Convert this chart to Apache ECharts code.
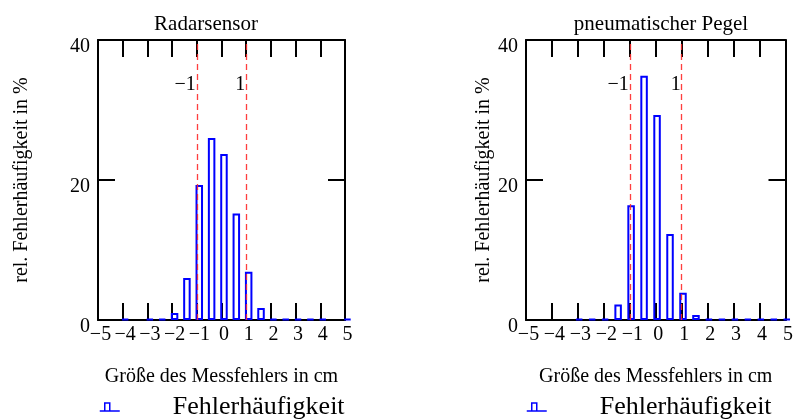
<!DOCTYPE html>
<html><head><meta charset="utf-8">
<script src="https://cdn.jsdelivr.net/npm/echarts@6/dist/echarts.min.js"></script>
<style>html,body{margin:0;padding:0;background:#fff}#c{width:796px;height:419px}</style>
</head><body><div id="c"></div>
<script>
var titles = ['Radarsensor', 'pneumatischer Pegel'];
var xName = 'Größe des Messfehlers in cm';
var yName = 'rel. Fehlerhäufigkeit in %';
var seriesName = 'Fehlerhäufigkeit';
var leftX = [-3.9, -2.9, -2.4, -1.9, -1.4, -0.9, -0.4, 0.1, 0.6, 1.1, 1.6, 2.1, 2.6, 3.1, 3.6, 4.1, 5.1];
var leftY = [0.15, 0.15, 0.15, 1.0, 6.0, 19.3, 26.0, 23.7, 15.2, 6.9, 1.7, 0.15, 0.15, 0.15, 0.15, 0.15, 0.15];
var rightX = [-2.95, -2.45, -1.95, -1.45, -0.95, -0.45, 0.05, 0.55, 1.05, 1.55, 2.05, 2.55, 3.05, 3.55, 4.05, 4.55, 5.05];
var rightY = [0.15, 0.15, 0.15, 2.2, 16.4, 34.9, 29.3, 12.3, 3.9, 0.7, 0.15, 0.15, 0.15, 0.15, 0.15, 0.15, 0.15];
var sigmaLines = [-1, 1];
var sigmaLabels = ['−1', '1'];
var sigmaLabelY = 33.6;
var xMin = -5, xMax = 5, xStep = 1;
var yMin = 0, yMax = 40, yStep = 20;

var FONT = 'Liberation Serif';
var grids = [
  {left: 98, top: 40, width: 247, height: 280},
  {left: 526, top: 40, width: 263, height: 280}
];
var titleCenters = [201, 656];
var yNameGaps = [66, 23];
var legendLefts = [94, 521];

function minus(v){ return v < 0 ? '−' + Math.abs(v) : String(v); }
var axisLine = {show: true, onZero: false, lineStyle: {color: '#000', width: 2}};
var tick = {show: true, inside: true, length: 17, lineStyle: {color: '#000', width: 2}};

var option = {animation: false, backgroundColor: '#fff', grid: grids, title: [], xAxis: [], yAxis: [], series: [], legend: []};
[[leftX, leftY], [rightX, rightY]].forEach(function(d, i){
  option.title.push({text: titles[i], left: titleCenters[i], textAlign: 'center', top: 9,
    textStyle: {fontFamily: FONT, fontSize: 21, fontWeight: 'normal', color: '#000'}});
  option.xAxis.push({gridIndex: i, type: 'value', min: xMin, max: xMax, interval: xStep, position: 'bottom',
    axisLine: axisLine, axisTick: tick, splitLine: {show: false},
    axisLabel: {formatter: minus, fontFamily: FONT, fontSize: 20, color: '#000', margin: 5, padding: [0,0,0,5], showMinLabel: true, showMaxLabel: true, hideOverlap: false},
    name: xName, nameLocation: 'middle', nameGap: 47,
    nameTextStyle: {fontFamily: FONT, fontSize: 20, color: '#000'}});
  option.xAxis.push({gridIndex: i, type: 'value', min: xMin, max: xMax, interval: xStep, position: 'top',
    axisLine: axisLine, axisTick: tick, splitLine: {show: false}, axisLabel: {show: false}});
  option.yAxis.push({gridIndex: i, type: 'value', min: yMin, max: yMax, interval: yStep, position: 'left',
    axisLine: axisLine, axisTick: tick, splitLine: {show: false},
    axisLabel: {fontFamily: FONT, fontSize: 20, color: '#000', margin: 8, verticalAlign: 'top', lineHeight: 14},
    name: yName, nameLocation: 'middle', nameGap: yNameGaps[i],
    nameTextStyle: {fontFamily: FONT, fontSize: 20, color: '#000'}});
  option.yAxis.push({gridIndex: i, type: 'value', min: yMin, max: yMax, interval: yStep, position: 'right',
    axisLine: axisLine, axisTick: tick, splitLine: {show: false}, axisLabel: {show: false}});
  option.series.push({type: 'bar', name: seriesName, xAxisIndex: i * 2, yAxisIndex: i * 2, z: 3,
    data: d[0].map(function(x, k){ return [x, d[1][k]]; }),
    barWidth: 7.5, clip: true,
    itemStyle: {color: 'rgba(0,0,0,0)', borderColor: '#0000ff', borderWidth: 2},
    markLine: {silent: true, symbol: 'none', label: {show: false},
      lineStyle: {color: '#ff2a2a', type: [6, 4], width: 1.3, opacity: 0.9},
      data: sigmaLines.map(function(v){ return {xAxis: v}; })}
  });
  option.series.push({type: 'scatter', xAxisIndex: i * 2, yAxisIndex: i * 2, symbolSize: 0, silent: true, z: 5,
    itemStyle: {opacity: 1},
    data: sigmaLines.map(function(v){ return [v, sigmaLabelY]; }),
    label: {show: true, position: 'left', distance: 1, fontFamily: FONT, fontSize: 20, color: '#000', opacity: 1,
      formatter: function(p){ return sigmaLabels[p.dataIndex]; }}});
  option.legend.push({left: legendLefts[i], top: 389, data: [seriesName],
    icon: 'path://M0,9 L20,9 M5,9 L5,1 L10,1 L10,9', itemWidth: 20, itemHeight: 9,
    itemStyle: {color: 'rgba(0,0,0,0)', borderColor: '#0000ff', borderWidth: 1.5},
    textStyle: {fontFamily: FONT, fontSize: 26, color: '#000', padding: [0,0,0,48]}});
});
var chart = echarts.init(document.getElementById('c'), null, {renderer: 'canvas'});
chart.setOption(option);
</script></body></html>
